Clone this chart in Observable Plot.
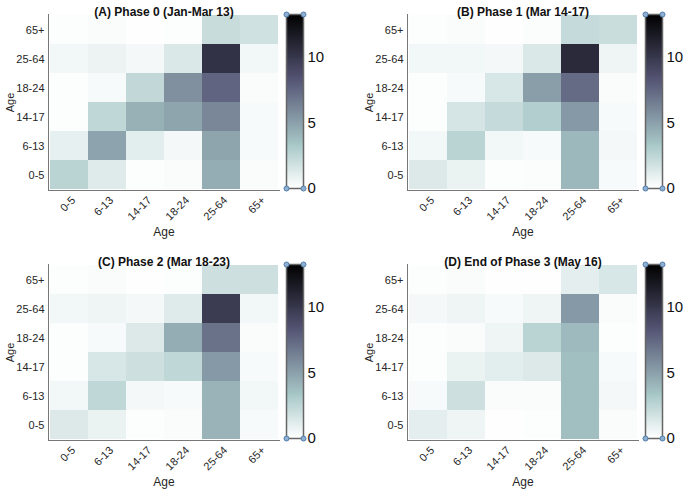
<!DOCTYPE html>
<html>
<head>
<meta charset="utf-8">
<script src="https://cdn.jsdelivr.net/npm/d3@7"></script>
<script src="https://cdn.jsdelivr.net/npm/@observablehq/plot@0.6"></script>
<style>
  html, body { margin: 0; padding: 0; background: #fff; }
  #root { position: relative; width: 685px; height: 491px; overflow: hidden; font-family: "Liberation Sans", Arial, sans-serif; }
  .panel { position: absolute; width: 340px; height: 245px; }
  .panel > div, .panel > svg { position: absolute; }
</style>
</head>
<body>
<div id="root"></div>
<script>
const ages = ["0-5", "6-13", "14-17", "18-24", "25-64", "65+"];
const titles = ["(A) Phase 0 (Jan-Mar 13)", "(B) Phase 1 (Mar 14-17)", "(C) Phase 2 (Mar 18-23)", "(D) End of Phase 3 (May 16)"];
const colorTicks = [0, 5, 10];
const colorMax = 13.3;

// rows follow ages order (0-5 ... 65+), columns follow ages order
const phase0 = [
  [2.6, 1.2, 0.1, 0.2, 4.5, 0.2],
  [0.9, 4.9, 1.1, 0.4, 4.8, 0.3],
  [0.1, 2.4, 4.3, 4.8, 6.1, 0.3],
  [0.1, 0.3, 2.3, 5.7, 7.6, 0.2],
  [0.5, 0.7, 0.4, 1.4, 10.3, 0.5],
  [0.1, 0.2, 0.05, 0.1, 2.1, 1.8]
];
const phase1 = [
  [1.3, 0.8, 0.1, 0.15, 4.0, 0.3],
  [0.5, 2.6, 0.5, 0.3, 4.0, 0.4],
  [0.1, 1.6, 2.2, 2.9, 5.3, 0.3],
  [0.1, 0.3, 1.5, 5.1, 7.3, 0.2],
  [0.5, 0.5, 0.4, 1.4, 10.8, 0.6],
  [0.1, 0.2, 0.05, 0.15, 2.2, 2.0]
];
const phase2 = [
  [1.3, 0.8, 0.1, 0.2, 4.2, 0.3],
  [0.5, 2.4, 0.4, 0.3, 4.2, 0.5],
  [0.1, 1.5, 1.9, 2.4, 5.3, 0.3],
  [0.1, 0.3, 1.3, 4.5, 7.0, 0.2],
  [0.5, 0.6, 0.4, 1.2, 9.8, 0.5],
  [0.1, 0.2, 0.05, 0.1, 1.9, 1.9]
];
const phase3 = [
  [1.0, 0.6, 0.05, 0.1, 3.7, 0.2],
  [0.3, 1.9, 0.2, 0.2, 3.7, 0.4],
  [0.1, 0.8, 1.1, 1.3, 3.7, 0.3],
  [0.1, 0.2, 0.6, 2.6, 3.9, 0.1],
  [0.4, 0.6, 0.3, 0.6, 5.3, 0.2],
  [0.1, 0.2, 0.05, 0.05, 1.0, 1.5]
];

// reversed MATLAB "bone" colormap
function boneRev(t) {
  const s = 1 - Math.max(0, Math.min(1, t));
  const hr = Math.min(1, s * 8 / 3);
  const hg = Math.max(0, Math.min(1, s * 8 / 3 - 1));
  const hb = Math.max(0, Math.min(1, s * 4 - 3));
  return d3.rgb((7 * s + hb) / 8 * 255, (7 * s + hg) / 8 * 255, (7 * s + hr) / 8 * 255).formatHex();
}

const colorScale = {type: "linear", domain: [0, colorMax], interpolate: () => boneRev};
const font = "Liberation Sans, Arial, sans-serif";
const panels = [
  {m: phase0, left: 0, top: 0},
  {m: phase1, left: 359, top: 0},
  {m: phase2, left: 0, top: 250},
  {m: phase3, left: 359, top: 250}
];

const root = document.getElementById("root");
panels.forEach((p, i) => {
  const data = [];
  p.m.forEach((row, ri) => row.forEach((v, ci) => data.push({row: ages[ri], col: ages[ci], value: v})));
  const div = document.createElement("div");
  div.className = "panel";
  div.style.left = p.left + "px";
  div.style.top = p.top + "px";

  const heat = Plot.plot({
    width: 340, height: 245,
    marginLeft: 48, marginRight: 61, marginTop: 14, marginBottom: 55,
    style: {fontFamily: font, fontSize: "11px", color: "#262626", background: "transparent", overflow: "visible"},
    x: {domain: ages, padding: 0, label: null},
    y: {domain: ages.slice().reverse(), padding: 0, label: null},
    color: colorScale,
    marks: [
      Plot.cell(data, {x: "col", y: "row", fill: "value", inset: 0}),
      Plot.axisX({tickRotate: -45, tickSize: 0, tickPadding: 8, dx: 4, label: null, fontSize: 11}),
      Plot.axisX({ticks: [], tickSize: 0, label: "Age", labelAnchor: "center", labelOffset: 45, fontSize: 12}),
      Plot.axisY({tickSize: 0, tickPadding: 4, label: "Age", labelAnchor: "center", labelOffset: 42, fontSize: 11}),
      Plot.frame({stroke: "#777", strokeWidth: 1, anchor: "left"}),
      Plot.frame({stroke: "#777", strokeWidth: 1, anchor: "bottom"}),
      Plot.text([titles[i]], {frameAnchor: "top", dy: -7, text: d => d, fontWeight: "bold", fontSize: 12, fill: "#111"})
    ]
  });
  heat.style.left = "0px";
  heat.style.top = "0px";
  div.appendChild(heat);

  const nSteps = 176;
  const step = colorMax / nSteps;
  const ramp = d3.range(0, nSteps).map(k => k * step);
  const corners = [[0, 0], [1, 0], [0, colorMax], [1, colorMax]];
  const bar = Plot.plot({
    width: 60, height: 245,
    marginLeft: 6, marginRight: 37, marginTop: 14, marginBottom: 57,
    style: {fontFamily: font, fontSize: "15px", color: "#111", background: "transparent", overflow: "visible"},
    x: {domain: [0, 1], axis: null},
    y: {domain: [0, colorMax], axis: "right", ticks: colorTicks, tickSize: 0, tickPadding: 4, label: null, tickFormat: d3.format("d")},
    color: colorScale,
    marks: [
      Plot.rect(ramp, {x1: 0, x2: 1, y1: d => d, y2: d => d + step, fill: d => d + step / 2, shapeRendering: "crispEdges"}),
      Plot.frame({stroke: "#666", strokeWidth: 1.5}),
      Plot.dot(corners, {x: d => d[0], y: d => d[1], r: 2.5, fill: "#8fb0d0", stroke: "#4f7cab", strokeWidth: 1})
    ]
  });
  bar.style.left = "280px";
  bar.style.top = "0px";
  div.appendChild(bar);
  root.appendChild(div);
});
</script>
</body>
</html>
